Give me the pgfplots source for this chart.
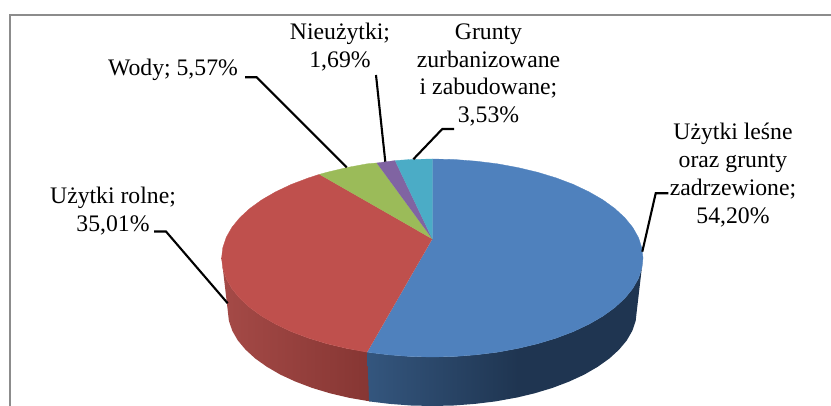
\documentclass[border=0pt]{standalone}
\usepackage{pgfplots}
\pgfplotsset{compat=1.18}
\usepackage{fontspec}
\setmainfont{Liberation Serif}
\definecolor{cblue}{HTML}{4F81BD}
\definecolor{cred}{HTML}{BF504D}
\definecolor{cgreen}{HTML}{9BBB59}
\definecolor{cpurple}{HTML}{8064A2}
\definecolor{cteal}{HTML}{4BACC6}
\definecolor{sblueL}{HTML}{34567E}
\definecolor{sblueD}{HTML}{1F3551}
\definecolor{sredL}{HTML}{A54A47}
\definecolor{sredD}{HTML}{863633}
\definecolor{frame}{HTML}{8C8C8C}
\tikzset{lab/.style={align=center,text=black,font=\fontsize{23.7}{27.9}\selectfont,inner sep=0pt}}
\begin{document}
\begin{tikzpicture}
\path[use as bounding box] (0,0) rectangle (831pt,406pt);
\begin{axis}[
  at={(0,0)},anchor=south west,
  scale only axis,width=831pt,height=406pt,
  xmin=0,xmax=831,ymin=0,ymax=406,y dir=reverse,
  hide axis,
]
% frame
\addplot[frame,line width=2.2pt,no markers] coordinates {(10,406) (10,15) (831,15)};
% side: red
\addplot[draw=none,left color=sredL,right color=sredD] coordinates {
 (221.6,258) (222.8,268.3) (226.2,278.6) (231.9,288.6) (239.8,298.3) (249.8,307.5) (261.8,316.2) (275.7,324.2) (291.3,331.6) (308.5,338.1) (326.9,343.7) (346.6,348.4) (369,352.2)
 (370,401.4) (349.1,397.8) (330.0,393.3) (312.1,387.9) (295.5,381.6) (280.3,374.6) (266.9,366.8) (255.2,358.5) (245.5,349.6) (237.8,340.4) (232.3,330.8) (228.9,320.9) (227.8,311)};
% side: blue gradient part
\addplot[draw=none,left color=sblueL,right color=sblueD] coordinates {
 (367.2,352.2) (388.5,354.8) (410.3,356.5) (432.3,357) (454.3,356.5) (476.1,354.8) (497.4,352.2) (518,348.4)
 (518,397.3) (495.5,401.4) (474.8,403.9) (453.7,405.5) (432.3,406) (410.9,405.5) (389.8,403.9) (369.1,401.4)};
% side: blue flat part
\addplot[draw=none,fill=sblueD] coordinates {
 (517.5,348.5) (537.7,343.7) (556.1,338.1) (573.3,331.6) (588.9,324.2) (602.8,316.2) (614.8,307.5) (624.8,298.3) (632.7,288.6) (638.4,278.6) (641.8,268.3) (643,258)
 (636.8,311) (635.7,320.9) (632.3,330.8) (626.8,340.4) (619.1,349.6) (609.4,358.5) (597.7,366.8) (584.3,374.6) (569.1,381.6) (552.5,387.9) (534.6,393.3) (517.5,397.4)};
% top: blue 54,20%
\addplot[cblue,fill=cblue,line width=0.3pt] coordinates {
 (432.3,239) (432.3,159) (454.3,159.5) (476.1,161.2) (497.4,163.8) (518,167.6) (537.7,172.3) (556.1,177.9) (573.3,184.4) (588.9,191.8) (602.8,199.8) (614.8,208.5) (624.8,217.7) (632.7,227.4) (638.4,237.4) (641.8,247.7) (643,258)
 (641.8,268.3) (638.4,278.6) (632.7,288.6) (624.8,298.3) (614.8,307.5) (602.8,316.2) (588.9,324.2) (573.3,331.6) (556.1,338.1) (537.7,343.7) (518,348.4) (497.4,352.2) (476.1,354.8) (454.3,356.5) (432.3,357) (410.3,356.5) (388.5,354.8) (367.2,352.2)};
% top: red 35,01%
\addplot[cred,fill=cred,line width=0.3pt] coordinates {
 (432.3,239) (319.3,174.4) (308.5,177.9) (291.3,184.4) (275.7,191.8) (261.8,199.8) (249.8,208.5) (239.8,217.7) (231.9,227.4) (226.2,237.4) (222.8,247.7) (221.6,258) (222.8,268.3) (226.2,278.6) (231.9,288.6) (239.8,298.3) (249.8,307.5) (261.8,316.2) (275.7,324.2) (291.3,331.6) (308.5,338.1) (326.9,343.7) (346.6,348.4) (367.2,352.2)};
% top: green 5,57%
\addplot[cgreen,fill=cgreen,line width=0.3pt] coordinates {
 (432.3,239) (376.7,163) (367.2,163.8) (346.6,167.6) (326.9,172.3) (319.3,174.4)};
% top: purple 1,69%
\addplot[cpurple,fill=cpurple,line width=0.3pt] coordinates {
 (432.3,239) (395,160.6) (376.7,163)};
% top: teal 3,53%
\addplot[cteal,fill=cteal,line width=0.3pt] coordinates {
 (432.3,239) (432.3,159) (410.3,159.5) (395,160.6)};
% leader lines
\addplot[black,line width=2.1pt,no markers] coordinates {(245,77.3) (256.7,77.3) (346.7,167.3)};
\addplot[black,line width=2.1pt,no markers] coordinates {(376,75) (385.3,161.7)};
\addplot[black,line width=2.1pt,no markers] coordinates {(454,129) (442.3,129) (413.3,159.3)};
\addplot[black,line width=2.1pt,no markers] coordinates {(668.3,193.3) (655.7,193.3) (642.3,251.7)};
\addplot[black,line width=2.1pt,no markers] coordinates {(154,231.5) (166,231.5) (227.7,303.3)};
% labels
\node[lab] at (axis cs:733,175) {Użytki leśne\\oraz grunty\\zadrzewione;\\54,20\%};
\node[lab] at (axis cs:113,211) {Użytki rolne;\\35,01\%};
\node[lab] at (axis cs:173,70) {Wody; 5,57\%};
\node[lab] at (axis cs:340,47) {Nieużytki;\\1,69\%};
\node[lab] at (axis cs:488.5,75) {Grunty\\zurbanizowane\\i zabudowane;\\3,53\%};
\end{axis}
\end{tikzpicture}
\end{document}
